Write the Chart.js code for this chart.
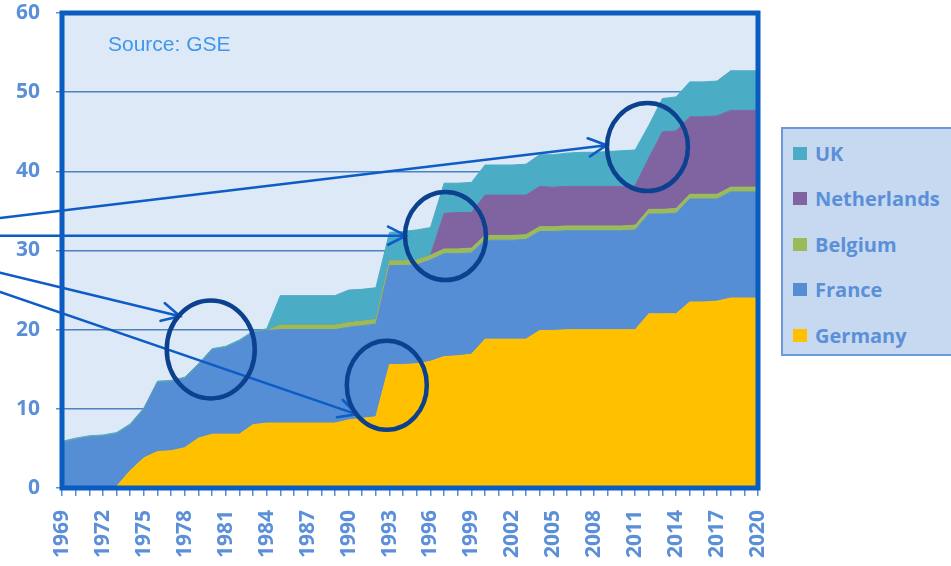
<!DOCTYPE html>
<html>
<head>
<meta charset="utf-8">
<script src="https://cdn.jsdelivr.net/npm/chart.js@4/dist/chart.umd.min.js"></script>
<style>
    body { margin: 0; background: #fff; }
    #wrap { position: relative; width: 951px; height: 566px; overflow: hidden; }
    #legend {
        position: absolute; left: 781px; top: 127px; width: 172px; height: 229px;
        box-sizing: border-box; background: #C6D9F1; border: 2px solid #6D9AD6;
    }
    .item {
        position: absolute; left: 10px; height: 28px; display: flex; align-items: center;
        font: bold 20px 'Open Sans', sans-serif; color: #5B8FD8; white-space: nowrap;
    }
    .sw { width: 14px; height: 13px; margin-right: 8px; }
</style>
</head>
<body>
<div id="wrap">
    <canvas id="chart" width="951" height="566"></canvas>
    <div id="legend"></div>
</div>
<script>
// years on the x axis
const years = [
    '1969', '1970', '1971', '1972', '1973', '1974', '1975', '1976', '1977', '1978',
    '1979', '1980', '1981', '1982', '1983', '1984', '1985', '1986', '1987', '1988',
    '1989', '1990', '1991', '1992', '1993', '1994', '1995', '1996', '1997', '1998',
    '1999', '2000', '2001', '2002', '2003', '2004', '2005', '2006', '2007', '2008',
    '2009', '2010', '2011', '2012', '2013', '2014', '2015', '2016', '2017', '2018',
    '2019', '2020'
];

const germany = [
    0, 0, 0, 0, 0.2, 2.2, 3.8, 4.6, 4.7, 5.1,
    6.3, 6.8, 6.8, 6.8, 8.0, 8.2, 8.2, 8.2, 8.2, 8.2,
    8.2, 8.6, 8.8, 9.0, 15.6, 15.6, 15.7, 16.0, 16.6, 16.7,
    16.9, 18.8, 18.8, 18.8, 18.8, 19.9, 19.9, 20.0, 20.0, 20.0,
    20.0, 20.0, 20.0, 22.0, 22.0, 22.0, 23.5, 23.5, 23.6, 24.0,
    24.0, 24.0
];
const france = [
    5.7, 6.1, 6.4, 6.5, 6.6, 5.7, 6.1, 8.7, 8.7, 8.7,
    9.2, 10.6, 10.9, 11.7, 11.6, 11.7, 11.8, 11.8, 11.8, 11.8,
    11.8, 11.7, 11.7, 11.7, 12.5, 12.5, 12.5, 12.8, 13.0, 12.9,
    12.8, 12.5, 12.5, 12.5, 12.6, 12.5, 12.5, 12.5, 12.5, 12.5,
    12.5, 12.5, 12.6, 12.6, 12.6, 12.7, 13.0, 13.0, 12.9, 13.4,
    13.4, 13.4
];
const belgium = [
    0, 0, 0, 0, 0, 0, 0, 0, 0, 0,
    0, 0, 0, 0, 0, 0, 0.6, 0.6, 0.6, 0.6,
    0.6, 0.6, 0.6, 0.6, 0.6, 0.6, 0.6, 0.6, 0.6, 0.6,
    0.6, 0.6, 0.6, 0.6, 0.6, 0.6, 0.6, 0.6, 0.6, 0.6,
    0.6, 0.6, 0.6, 0.6, 0.6, 0.6, 0.6, 0.6, 0.6, 0.6,
    0.6, 0.6
];
const netherlands = [
    0, 0, 0, 0, 0, 0, 0, 0, 0, 0,
    0, 0, 0, 0, 0, 0, 0, 0, 0, 0,
    0, 0, 0, 0, 0, 0, 0, 0, 4.5, 4.6,
    4.5, 5.1, 5.1, 5.1, 5.0, 5.1, 5.0, 5.0, 5.0, 5.0,
    5.0, 5.0, 5.0, 6.5, 9.8, 9.8, 9.8, 9.8, 9.9, 9.7,
    9.7, 9.7
];
const uk = [
    0.2, 0.2, 0.2, 0.2, 0.2, 0.2, 0.2, 0.2, 0.2, 0.2,
    0.2, 0.2, 0.2, 0.2, 0.2, 0.2, 3.7, 3.7, 3.7, 3.7,
    3.7, 4.1, 4.0, 4.0, 3.6, 3.7, 3.8, 3.5, 3.8, 3.7,
    3.8, 3.8, 3.8, 3.8, 3.9, 4.0, 4.1, 4.2, 4.3, 4.3,
    4.4, 4.5, 4.5, 4.1, 4.2, 4.3, 4.4, 4.4, 4.4, 5.0,
    5.0, 5.0
];

const yTicks = [0, 10, 20, 30, 40, 50, 60];

// highlighted spots (in year / value units)
const circles = [
    { year: 1979.9, value: 17.5, rx: 44, ry: 49 },
    { year: 1992.8, value: 12.97, rx: 40, ry: 44.5 },
    { year: 1997.1, value: 31.83, rx: 40.5, ry: 44 },
    { year: 2011.9, value: 43.07, rx: 40.5, ry: 44 }
];
const arrows = [
    { x1: 1964.46, y1: 34.1, x2: 2008.9, y2: 43.3 },
    { x1: 1964.46, y1: 31.87, x2: 1994.2, y2: 31.87 },
    { x1: 1964.46, y1: 27.2, x2: 1977.65, y2: 21.7 },
    { x1: 1964.46, y1: 24.76, x2: 1990.6, y2: 9.3 }
];

const TEXT_COLOR = '#5B8FD8';
Chart.defaults.font.family = "'Open Sans', sans-serif";

function series(label, data, color, fill) {
    return {
        label: label,
        data: data,
        backgroundColor: color,
        borderColor: color,
        borderWidth: 1,
        pointRadius: 0,
        pointHoverRadius: 0,
        tension: 0,
        fill: fill
    };
}

function drawArrow(ctx, x1, y1, x2, y2) {
    const ang = Math.atan2(y2 - y1, x2 - x1);
    const len = 20, spread = 27 * Math.PI / 180;
    ctx.beginPath();
    ctx.moveTo(x1, y1);
    ctx.lineTo(x2, y2);
    ctx.moveTo(x2 - len * Math.cos(ang - spread), y2 - len * Math.sin(ang - spread));
    ctx.lineTo(x2, y2);
    ctx.lineTo(x2 - len * Math.cos(ang + spread), y2 - len * Math.sin(ang + spread));
    ctx.stroke();
}

const decor = {
    id: 'decor',
    beforeDraw(chart) {
        const { ctx, chartArea: a } = chart;
        ctx.save();
        ctx.fillStyle = '#DDE9F6';
        ctx.fillRect(a.left, a.top, a.right - a.left, a.bottom - a.top);
        ctx.restore();
    },
    afterDatasetsDraw(chart) {
        const { ctx, chartArea: a } = chart;
        const xs = chart.scales.x, ys = chart.scales.y;
        const px = yr => xs.getPixelForValue(yr - 1969);
        ctx.save();

        // plot frame
        ctx.strokeStyle = '#0A5CC0';
        ctx.lineWidth = 5;
        ctx.strokeRect(a.left, a.top, a.right - a.left, a.bottom - a.top);

        ctx.fillStyle = '#4196EB';
        ctx.font = "21px 'Liberation Sans', Arial, sans-serif";
        ctx.textBaseline = 'alphabetic';
        ctx.fillText('Source: GSE', a.left + 46, a.top + 38);

        ctx.strokeStyle = '#0E5CC6';
        ctx.lineWidth = 2.6;
        ctx.lineCap = 'round';
        arrows.forEach(ar => {
            drawArrow(ctx, px(ar.x1), ys.getPixelForValue(ar.y1), px(ar.x2), ys.getPixelForValue(ar.y2));
        });

        ctx.strokeStyle = '#0B418F';
        ctx.lineWidth = 4.5;
        circles.forEach(c => {
            ctx.beginPath();
            ctx.ellipse(px(c.year), ys.getPixelForValue(c.value), c.rx, c.ry, 0, 0, Math.PI * 2);
            ctx.stroke();
        });
        ctx.restore();
    }
};

const chart = new Chart(document.getElementById('chart'), {
    type: 'line',
    data: {
        labels: years,
        datasets: [
            series('Germany', germany, '#FFC000', 'origin'),
            series('France', france, '#558ED5', '-1'),
            series('Belgium', belgium, '#9BBB59', '-1'),
            series('Netherlands', netherlands, '#8064A2', '-1'),
            series('UK', uk, '#4BACC6', '-1')
        ]
    },
    options: {
        responsive: false,
        animation: false,
        layout: { padding: { left: 0, right: 193, top: 0, bottom: 0 } },
        plugins: {
            legend: { display: false },
            tooltip: { enabled: false }
        },
        scales: {
            x: {
                offset: false,
                afterFit: s => { s.height = 78; },
                border: { display: false },
                grid: {
                    drawOnChartArea: false,
                    tickLength: 8,
                    tickColor: '#5B8ED6',
                    lineWidth: 1.5
                },
                ticks: {
                    autoSkip: false,
                    minRotation: 90,
                    maxRotation: 90,
                    padding: 14,
                    color: TEXT_COLOR,
                    font: { size: 21, weight: 'bold' },
                    callback: function (val, i) {
                        return i % 3 === 0 ? years[i] : '';
                    }
                }
            },
            y: {
                stacked: true,
                min: yTicks[0],
                max: yTicks[yTicks.length - 1],
                afterFit: s => { s.width = 62; s.paddingTop = 13; },
                afterBuildTicks: s => { s.ticks = yTicks.map(v => ({ value: v })); },
                border: { display: false },
                grid: {
                    tickLength: 6,
                    tickColor: '#5B8ED6',
                    lineWidth: 1.5,
                    color: ctx => (ctx.tick && (ctx.tick.value === 0 || ctx.tick.value === 60)) ? 'rgba(0,0,0,0)' : '#4F80C2'
                },
                ticks: {
                    padding: 16,
                    color: TEXT_COLOR,
                    font: { size: 21, weight: 'bold' }
                }
            }
        }
    },
    plugins: [decor]
});

// legend box on the right, top to bottom as in the stack
const legendBox = document.getElementById('legend');
chart.data.datasets.slice().reverse().forEach((ds, i) => {
    const row = document.createElement('div');
    row.className = 'item';
    row.style.top = (24 + i * 45.6 - 14) + 'px';
    const sw = document.createElement('span');
    sw.className = 'sw';
    sw.style.background = ds.backgroundColor;
    const txt = document.createElement('span');
    txt.textContent = ds.label;
    row.appendChild(sw);
    row.appendChild(txt);
    legendBox.appendChild(row);
});
</script>
</body>
</html>
